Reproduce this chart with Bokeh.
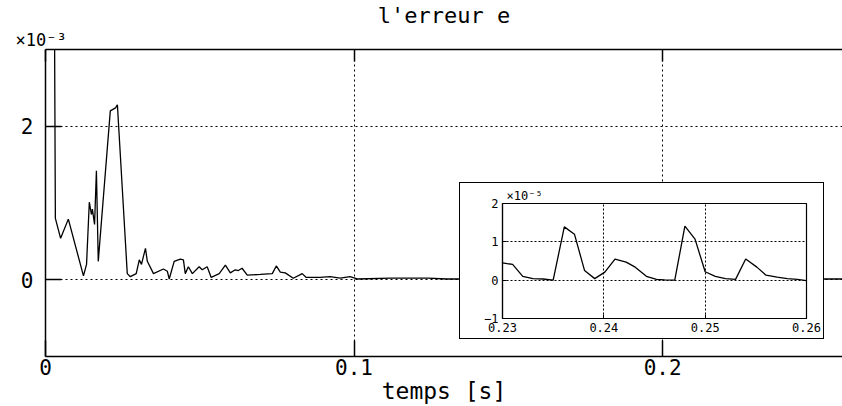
from bokeh.plotting import figure
from bokeh.models import Range1d, FixedTicker, LinearAxis, Grid, Title
from bokeh.layouts import column
from bokeh.embed import file_html
from bokeh.resources import INLINE

# error signal e(t), in units of 1e-3
t_main = [0.0, 0.0032, 0.0049, 0.0074, 0.0123, 0.0133, 0.0142, 0.0149, 0.0152,
          0.0159, 0.0165, 0.0171, 0.0210, 0.0227, 0.0233, 0.0265, 0.0275, 0.0294,
          0.0304, 0.0311, 0.0324, 0.0330, 0.0350, 0.0382, 0.0395, 0.0401, 0.0417,
          0.0437, 0.0447, 0.0453, 0.0463, 0.0476, 0.0498, 0.0508, 0.0524, 0.0537,
          0.0563, 0.0583, 0.0599, 0.0615, 0.0625, 0.0637, 0.0654, 0.0696, 0.0735,
          0.0748, 0.0761, 0.0777, 0.0803, 0.0832, 0.0845, 0.0868, 0.0890, 0.0922,
          0.0955, 0.0987, 0.1010, 0.1117, 0.1175, 0.1240, 0.1300, 0.1600, 0.2000,
          0.2400, 0.2600]
e_main = [30.0, 0.80, 0.54, 0.79, 0.05, 0.20, 1.01, 0.85, 0.92,
          0.72, 1.42, 0.24, 2.20, 2.24, 2.28, 0.08, 0.04, 0.08,
          0.26, 0.20, 0.41, 0.24, 0.08, 0.14, 0.11, 0.01, 0.24,
          0.27, 0.26, 0.08, 0.17, 0.08, 0.17, 0.13, 0.17, 0.03,
          0.08, 0.19, 0.09, 0.13, 0.12, 0.15, 0.06, 0.07, 0.08,
          0.18, 0.10, 0.09, 0.02, 0.08, 0.03, 0.03, 0.03, 0.04,
          0.02, 0.04, 0.01, 0.02, 0.02, 0.02, 0.01, 0.01, 0.01,
          0.01, 0.01]

# zoom on 0.23 .. 0.26 s, in units of 1e-5
t_zoom = [0.2300, 0.2310, 0.2320, 0.2330, 0.2340, 0.2350, 0.2361, 0.2371, 0.2381,
          0.2391, 0.2401, 0.2411, 0.2422, 0.2431, 0.2442, 0.2452, 0.2460, 0.2470,
          0.2480, 0.2490, 0.2500, 0.2510, 0.2520, 0.2530, 0.2540, 0.2551, 0.2560,
          0.2571, 0.2581, 0.2591, 0.2600]
e_zoom = [0.45, 0.41, 0.10, 0.04, 0.03, 0.00, 1.39, 1.20, 0.25,
          0.04, 0.21, 0.55, 0.47, 0.34, 0.10, 0.02, 0.01, 0.00,
          1.41, 1.07, 0.22, 0.10, 0.04, 0.02, 0.55, 0.34, 0.13,
          0.08, 0.04, 0.02, -0.01]

main_xticks = [0.0, 0.1, 0.2]
main_yticks = [0, 2]
zoom_xticks = [0.23, 0.24, 0.25, 0.26]
zoom_yticks = [-1, 0, 1, 2]

FONT = "DejaVu Sans Mono"
W, H = 842, 406

# ---- main plot ----
p = figure(width=W, height=H, x_range=Range1d(0, 0.2583), y_range=Range1d(-1, 3),
           x_axis_type=None, y_axis_type=None, output_backend="svg",
           toolbar_location=None, min_border_left=45, min_border_right=0,
           min_border_top=43, min_border_bottom=48)
p.frame_align = False
p.outline_line_color = None
p.background_fill_color = "white"
p.border_fill_color = "white"

xax = LinearAxis(ticker=FixedTicker(ticks=main_xticks),
                 major_label_overrides={0: "0"},
                 axis_label="temps [s]")
yax = LinearAxis(ticker=FixedTicker(ticks=main_yticks))
# top border: plain line with short inward marks at the x ticks
tax = LinearAxis(ticker=FixedTicker(ticks=[], minor_ticks=main_xticks))
for ax in (xax, yax, tax):
    ax.axis_line_color = "black"
    ax.axis_line_width = 1.5
    ax.major_tick_in = 16
    ax.major_tick_out = 0
    ax.major_tick_line_width = 1.5
    ax.minor_tick_line_color = None
    ax.major_label_text_font = FONT
    ax.major_label_text_font_size = "21px"
    ax.major_label_text_color = "black"
    ax.axis_label_text_font = FONT
    ax.axis_label_text_font_size = "23px"
    ax.axis_label_text_font_style = "normal"
    ax.axis_label_text_color = "black"
xax.major_label_standoff = 2
xax.axis_label_standoff = 0
yax.major_label_standoff = 12
tax.minor_tick_line_color = "black"
tax.minor_tick_line_width = 1.5
tax.minor_tick_in = 12
tax.minor_tick_out = 0
tax.major_label_standoff = 0
p.add_layout(xax, "below")
p.add_layout(yax, "left")
p.add_layout(tax, "above")

p.add_layout(Title(text="×10⁻³", align="left", offset=-30, standoff=0,
                   text_font=FONT, text_font_size="17px", text_font_style="normal",
                   text_color="black"), "above")
p.add_layout(Title(text="l'erreur e", align="center", standoff=0,
                   text_font=FONT, text_font_size="22px", text_font_style="normal",
                   text_color="black"), "above")

for dim, ax in ((0, xax), (1, yax)):
    p.add_layout(Grid(dimension=dim, ticker=ax.ticker, grid_line_color="black",
                      grid_line_dash="2 3", grid_line_width=1))

p.line(t_main, e_main, line_color="black", line_width=1.3)

# ---- inset ----
IW, IH = 365, 157
q = figure(width=IW, height=IH, x_range=Range1d(0.23, 0.26), y_range=Range1d(-1, 2),
           x_axis_type=None, y_axis_type=None, output_backend="svg",
           toolbar_location=None, min_border_left=42, min_border_right=19,
           min_border_top=20, min_border_bottom=22)
q.frame_align = False
q.outline_line_color = "black"
q.outline_line_width = 1.2
q.add_layout(Title(text="×10⁻⁵", align="left", offset=4, standoff=1,
                   text_font=FONT, text_font_size="12px", text_font_style="normal",
                   text_color="black"), "above")
qx = LinearAxis(ticker=FixedTicker(ticks=zoom_xticks))
qy = LinearAxis(ticker=FixedTicker(ticks=zoom_yticks))
for ax in (qx, qy):
    ax.axis_line_color = "black"
    ax.axis_line_width = 1.2
    ax.major_tick_in = 4
    ax.major_tick_out = 0
    ax.minor_tick_line_color = None
    ax.major_label_text_font = FONT
    ax.major_label_text_font_size = "12px"
    ax.major_label_text_color = "black"
    ax.major_label_standoff = 4
q.add_layout(qx, "below")
q.add_layout(qy, "left")
for dim, ax in ((0, qx), (1, qy)):
    q.add_layout(Grid(dimension=dim, ticker=ax.ticker, grid_line_color="black",
                      grid_line_dash="2 2", grid_line_width=1))
q.line(t_zoom, e_zoom, line_color="black", line_width=1.3)

# pull the inset up over the lower right part of the main plot
INSET_LEFT, INSET_TOP = 459, 182
q.margin = (INSET_TOP - H, 0, 0, INSET_LEFT)
q.styles = {"border": "1px solid black", "background-color": "white"}

layout = column(p, q)
open("out.html", "w").write(file_html(layout, INLINE))
